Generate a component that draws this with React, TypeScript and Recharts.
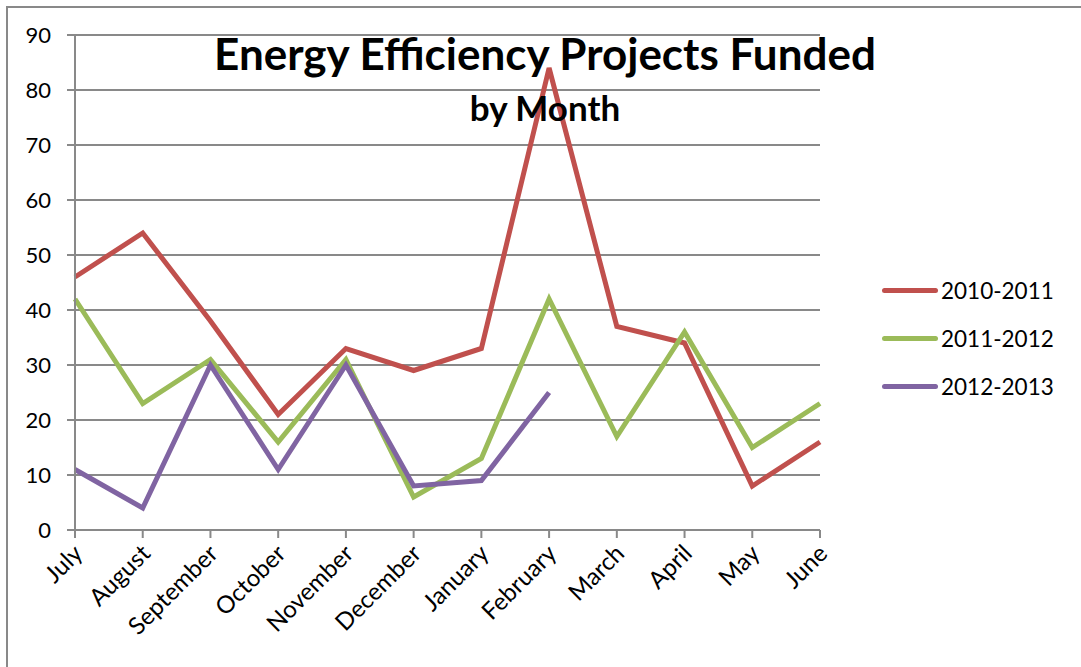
import { LineChart, Line, XAxis, YAxis, CartesianGrid } from "recharts";

const months = [
  "July", "August", "September", "October", "November", "December",
  "January", "February", "March", "April", "May", "June",
];
const fy2010 = [46, 54, 38, 21, 33, 29, 33, 84, 37, 34, 8, 16];
const fy2011 = [42, 23, 31, 16, 31, 6, 13, 42, 17, 36, 15, 23];
const fy2012 = [11, 4, 30, 11, 30, 8, 9, 25];
const yTicks = [0, 10, 20, 30, 40, 50, 60, 70, 80, 90];

const SERIES = [
  { key: "fy2010", name: "2010-2011", color: "#C0504D" },
  { key: "fy2011", name: "2011-2012", color: "#9BBB59" },
  { key: "fy2012", name: "2012-2013", color: "#8064A2" },
];

const data = months.map((m, i) => ({
  month: m,
  fy2010: fy2010[i],
  fy2011: fy2011[i],
  fy2012: fy2012[i] ?? null,
}));

const FONT = "Lato, 'Open Sans', sans-serif";
const GRID = "#898989";

function MonthTick({ x, y, payload }: any) {
  return (
    <g transform={`translate(${x + 9},${y + 15})`}>
      <text textAnchor="end" transform="rotate(-45)" fontSize={24} fill="#000" fontFamily={FONT}>
        {payload.value}
      </text>
    </g>
  );
}

function LegendBox() {
  return (
    <div style={{ position: "absolute", left: 882, top: 266, fontFamily: FONT, fontSize: 22.5, color: "#000" }}>
      {SERIES.map((s) => (
        <div key={s.key} style={{ display: "flex", alignItems: "center", height: 48 }}>
          <div style={{ width: 56, height: 5, borderRadius: 3, background: s.color, marginRight: 3 }} />
          <span>{s.name}</span>
        </div>
      ))}
    </div>
  );
}

export default function App() {
  return (
    <div style={{ position: "absolute", left: 0, top: 0, width: 1081, height: 667, background: "#fff", overflow: "hidden" }}>
      <div style={{ position: "absolute", left: 6, top: 6, width: 1200, height: 800, border: `2px solid ${GRID}`, boxSizing: "border-box" }} />
      <LineChart width={1081} height={667} data={data} margin={{ top: 35, right: 261, bottom: 0, left: 0 }}>
        <CartesianGrid vertical={false} stroke={GRID} strokeWidth={2} />
        <XAxis
          dataKey="month"
          interval={0}
          height={137}
          stroke={GRID}
          strokeWidth={2}
          tickSize={8}
          tick={<MonthTick />}
        />
        <YAxis
          domain={[0, 90]}
          ticks={yTicks}
          width={75}
          stroke={GRID}
          strokeWidth={2}
          tickSize={8}
          tickMargin={16}
          tick={{ fontSize: 22, fill: "#000", fontFamily: FONT }}
        />
        {SERIES.map((s) => (
          <Line
            key={s.key}
            dataKey={s.key}
            name={s.name}
            stroke={s.color}
            strokeWidth={5}
            dot={false}
            type="linear"
            isAnimationActive={false}
          />
        ))}
      </LineChart>
      <LegendBox />
      <div style={{ position: "absolute", left: 0, width: 1090, top: 28, textAlign: "center", fontFamily: FONT, fontWeight: 700, fontSize: 44, lineHeight: "50px", color: "#000" }}>
        Energy Efficiency Projects Funded
      </div>
      <div style={{ position: "absolute", left: 0, width: 1090, top: 88, textAlign: "center", fontFamily: FONT, fontWeight: 700, fontSize: 35, lineHeight: "38px", color: "#000" }}>
        by Month
      </div>
    </div>
  );
}
